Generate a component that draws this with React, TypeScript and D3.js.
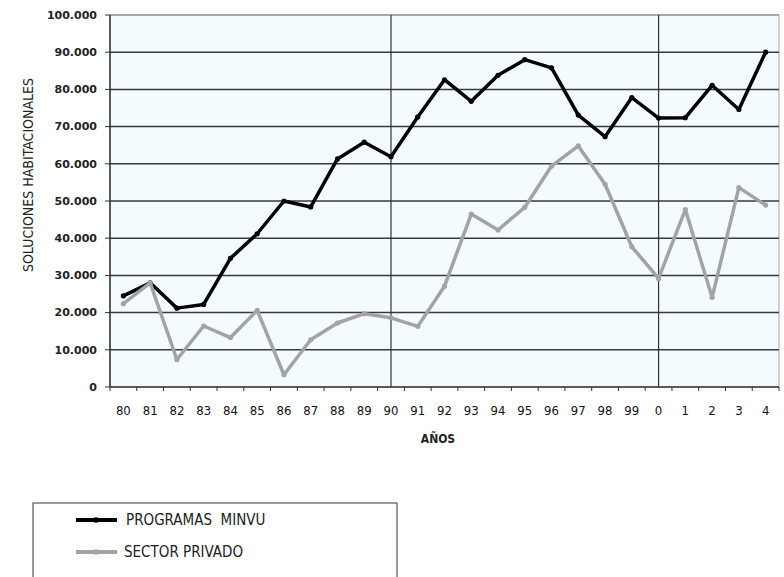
import React from "react";
import * as d3 from "d3";

const years = [
  "80", "81", "82", "83", "84", "85", "86", "87", "88", "89",
  "90", "91", "92", "93", "94", "95", "96", "97", "98", "99",
  "0", "1", "2", "3", "4",
];

const minvu = [
  24500, 28000, 21200, 22200, 34600, 41200, 50000, 48400, 61300, 65800,
  61900, 72600, 82600, 76800, 83800, 88000, 85800, 73100, 67300, 77800,
  72300, 72400, 81100, 74600, 90000,
];

const privado = [
  22400, 28000, 7400, 16400, 13300, 20600, 3300, 12700, 17200, 19700,
  18600, 16300, 27100, 46500, 42200, 48300, 59400, 64800, 54500, 37700,
  29200, 47700, 24100, 53600, 48900,
];

const yTicks = [0, 10000, 20000, 30000, 40000, 50000, 60000, 70000, 80000, 90000, 100000];
const dividers = ["90", "0"];

const series = [
  { name: "PROGRAMAS  MINVU", values: minvu, color: "#000000" },
  { name: "SECTOR PRIVADO", values: privado, color: "#a3a3a3" },
];

const width = 784;
const height = 577;
const margin = { top: 15, right: 5, bottom: 190, left: 110 };
const innerWidth = width - margin.left - margin.right;
const innerHeight = height - margin.top - margin.bottom;

const condensed = "'DejaVu Sans Condensed', 'Liberation Sans Narrow', 'DejaVu Sans', sans-serif";

export default function App() {
  const x = d3.scaleBand().domain(years).range([0, innerWidth]);
  const y = d3.scaleLinear().domain([0, 100000]).range([innerHeight, 0]);
  const cx = (d: string) => (x(d) as number) + x.bandwidth() / 2;
  const fmt = (v: number) => (v === 0 ? "0" : d3.format(",")(v).replace(/,/g, "."));

  const line = d3
    .line<number>()
    .x((_, i) => cx(years[i]))
    .y((d) => y(d));

  return (
    <svg
      width={width}
      height={height}
      style={{ position: "absolute", left: 0, top: 0, background: "#fff" }}
    >
      <g transform={`translate(${margin.left}, ${margin.top})`}>
        <rect width={innerWidth} height={innerHeight} fill="#f3fbfe" stroke="#a8a8a8" />
        {yTicks.map((t) => (
          <g key={t} transform={`translate(0, ${y(t)})`}>
            {t > 0 && (
              <line x2={innerWidth} stroke={t === 100000 ? "#9a9a9a" : "#3a3a3a"} strokeWidth={1.5} />
            )}
            <line x1={-5} x2={0} stroke="#333" />
            <text
              x={-13}
              dy=".35em"
              textAnchor="end"
              fontFamily="'DejaVu Sans', sans-serif"
              fontWeight="bold"
              fontSize={11}
              fill="#222"
            >
              {fmt(t)}
            </text>
          </g>
        ))}
        {dividers.map((d) => (
          <line key={d} x1={cx(d)} x2={cx(d)} y1={0} y2={innerHeight} stroke="#333" strokeWidth={1.2} />
        ))}
        <line x1={0} x2={0} y1={0} y2={innerHeight} stroke="#333" strokeWidth={1.5} />
        <line x1={0} x2={innerWidth} y1={innerHeight} y2={innerHeight} stroke="#333" strokeWidth={1.5} />
        {years.map((d) => (
          <line
            key={"t" + d}
            x1={x(d) as number}
            x2={x(d) as number}
            y1={innerHeight}
            y2={innerHeight + 4}
            stroke="#333"
          />
        ))}
        <line x1={innerWidth} x2={innerWidth} y1={innerHeight} y2={innerHeight + 4} stroke="#333" />
        {years.map((d) => (
          <text
            key={"l" + d}
            x={cx(d)}
            y={innerHeight + 28}
            textAnchor="middle"
            fontFamily={condensed}
            fontSize={13}
            fill="#111"
          >
            {d}
          </text>
        ))}
        <text
          x={cx("90") + 47}
          y={innerHeight + 56}
          textAnchor="middle"
          fontFamily={condensed}
          fontWeight="bold"
          fontSize={12}
          fill="#222"
        >
          AÑOS
        </text>
        {series.map((s) => (
          <g key={s.name}>
            <path
              d={line(s.values) as string}
              fill="none"
              stroke={s.color}
              strokeWidth={3.5}
              strokeLinejoin="round"
            />
            {s.values.map((v, i) => (
              <circle key={i} cx={cx(years[i])} cy={y(v)} r={2.6} fill={s.color} />
            ))}
          </g>
        ))}
      </g>
      <text
        transform={`translate(33, ${175}) rotate(-90)`}
        textAnchor="middle"
        fontFamily={condensed}
        fontSize={14}
        fill="#222"
      >
        SOLUCIONES HABITACIONALES
      </text>
      <rect x={33} y={503} width={364} height={100} fill="#fff" stroke="#555" strokeWidth={1.2} />
      {series.map((s, i) => (
        <g key={"leg" + i} transform={`translate(0, ${520 + i * 32})`}>
          <line x1={76} x2={117} stroke={s.color} strokeWidth={4} />
          <circle cx={96} cy={0} r={2.8} fill={s.color} />
          <text
            x={i === 0 ? 126 : 124}
            dy=".36em"
            fontFamily={condensed}
            fontSize={15}
            fill="#222"
            style={{ whiteSpace: "pre" }}
          >
            {s.name}
          </text>
        </g>
      ))}
    </svg>
  );
}
